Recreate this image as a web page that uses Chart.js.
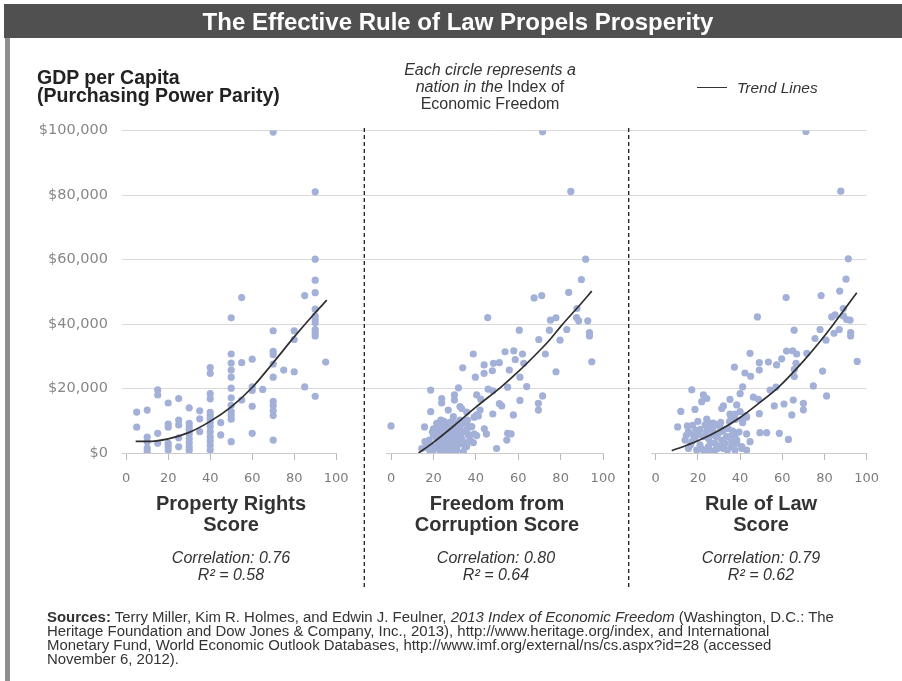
<!DOCTYPE html>
<html><head><meta charset="utf-8">
<script src="https://cdn.jsdelivr.net/npm/chart.js@4.4.0/dist/chart.umd.min.js"></script>
<style>
html,body{margin:0;padding:0;background:#fff;}
body{width:902px;height:681px;position:relative;overflow:hidden;font-family:"Liberation Sans",Arial,sans-serif;color:#333;}
.abs{position:absolute;white-space:nowrap;}
#bar{left:4px;top:4px;width:898px;height:34px;background:#505050;}
#lborder{left:5px;top:38px;width:5px;height:643px;background:#8e8e8e;}
#cv{position:absolute;left:0;top:0;}
.ptitle{top:493px;width:240px;text-align:center;font-weight:bold;font-size:20px;line-height:20.5px;color:#333;}
.corr{top:549px;width:240px;text-align:center;font-style:italic;font-size:16px;line-height:17px;color:#333;}
#src{left:47px;top:610px;font-size:14px;line-height:14px;color:#333;transform:scaleX(1.066);transform-origin:0 0;}
</style></head>
<body>
<div class="abs" id="bar"></div>
<div class="abs" id="lborder"></div>
<canvas id="cv" width="902" height="681"></canvas>
<div class="abs" style="left:0;width:916px;top:5px;line-height:34px;text-align:center;font-weight:bold;font-size:24px;color:#fff">The Effective Rule of Law Propels Prosperity</div>
<div class="abs" style="left:37px;top:67.5px;font-weight:bold;font-size:19.5px;line-height:18.5px;color:#222">GDP per Capita<br>(Purchasing Power Parity)</div>
<div class="abs" style="left:390px;width:200px;top:61px;text-align:center;font-size:16px;line-height:17px;color:#333"><i>Each circle represents a</i><br><i>nation in the</i> Index of<br>Economic Freedom</div>
<div class="abs" style="left:697px;top:87px;width:30px;height:0;border-top:1.5px solid #333"></div>
<div class="abs" style="left:737px;top:80px;font-style:italic;font-size:15.5px;line-height:15.5px;color:#333">Trend Lines</div>
<div class="abs ptitle" style="left:111px">Property Rights<br>Score</div>
<div class="abs ptitle" style="left:377px">Freedom from<br>Corruption Score</div>
<div class="abs ptitle" style="left:641px">Rule of Law<br>Score</div>
<div class="abs corr" style="left:111px">Correlation: 0.76<br>R² = 0.58</div>
<div class="abs corr" style="left:376px">Correlation: 0.80<br>R² = 0.64</div>
<div class="abs corr" style="left:641px">Correlation: 0.79<br>R² = 0.62</div>
<div class="abs" id="src"><b>Sources:</b> Terry Miller, Kim R. Holmes, and Edwin J. Feulner, <i>2013 Index of Economic Freedom</i> (Washington, D.C.: The<br>Heritage Foundation and Dow Jones &amp; Company, Inc., 2013), http://www.heritage.org/index, and International<br>Monetary Fund, World Economic Outlook Databases, http://www.imf.org/external/ns/cs.aspx?id=28 (accessed<br>November 6, 2012).</div>
<script>
// ---- data (GDP per capita in thousands of US$) ----
const xTicks = [0, 20, 40, 60, 80, 100];
const yTicks = [0, 20000, 40000, 60000, 80000, 100000];
const yTickLabels = ['$0', '$20,000', '$40,000', '$60,000', '$80,000', '$100,000'];

const propertyRights = [
[5,12.7],[5,8.0],
[10,13.3],[10,4.9],[10,3.5],[10,1.5],[10,0.4],
[15,19.6],[15,18.0],[15,6.1],[15,3.0],
[20,15.5],[20,9.0],[20,8.0],[20,3.0],[20,2.0],[20,0.9],
[25,16.9],[25,10.2],[25,8.7],[25,4.7],[25,1.9],
[30,14.0],[30,9.2],[30,8.1],[30,7.1],[30,5.9],[30,4.5],[30,3.2],[30,1.9],[30,0.8],
[35,13.1],[35,10.6],[35,6.6],
[40,26.5],[40,24.7],[40,18.4],[40,16.8],[40,12.6],[40,11.6],[40,10.6],[40,9.4],[40,8.2],[40,6.6],[40,5.0],[40,3.7],[40,2.3],[40,0.9],
[45,9.4],[45,5.6],
[50,41.9],[50,30.7],[50,27.9],[50,25.7],[50,23.5],[50,20.1],[50,17.1],[50,14.8],[50,12.8],[50,11.7],[50,10.5],[50,3.5],
[55,48.2],[55,28.0],[55,16.4],
[60,29.1],[60,20.5],[60,19.4],[60,14.5],[60,6.1],
[65,19.7],
[70,99.5],[70,37.9],[70,31.5],[70,30.5],[70,27.6],[70,23.5],[70,16.0],[70,14.7],[70,13.1],[70,11.6],[70,4.0],
[75,25.7],
[80,37.9],[80,35.2],[80,25.2],
[85,48.8],[85,20.5],
[90,81.0],[90,60.1],[90,53.6],[90,49.7],[90,44.6],[90,42.5],[90,41.4],[90,40.4],[90,38.3],[90,37.3],[90,36.3],[90,17.6],
[95,28.2]
];

const freedomFromCorruption = [
[71.5,99.6],[84.8,81.1],[91.8,60.1],[89.8,53.8],
[67.5,48.1],[71.1,48.8],[83.8,49.8],[87.7,44.8],[45.6,42.0],[75.2,41.2],[77.8,41.9],[87.5,42.0],[88.5,41.0],[92.8,41.0],
[60.5,38.1],[74.7,38.1],[82.9,38.3],[93.6,37.3],[93.6,36.3],[69.7,35.2],[79.7,35.0],
[38.8,30.7],[53.8,31.4],[57.9,31.7],[62,30.7],[58.6,29.0],[62.6,27.8],[72.8,30.7],
[43.9,27.3],[48.3,27.8],[51.1,28.0],[33.8,26.4],[47.8,25.5],[55.8,25.7],[43.9,24.7],[39.8,23.5],[60.8,23.5],[77.8,25.2],[94.7,28.3],
[31.8,20.2],[18.7,19.5],[45.8,19.8],[48,19.3],[55,20.4],[64,20.6],
[71.5,17.7],[69.5,15.4],[69.5,13.3],
[29.9,18.0],[29.9,16.4],[23.9,16.9],[23.9,15.5],[40.4,18.0],[42.3,16.7],[60.8,16.3],[51.1,15.3],[52.2,14.6],
[18.7,12.8],[27,13.3],[32.5,14.4],[33.3,13.8],[35.7,12.7],[40.4,11.8],[42,13.3],[48,12.1],[57.7,11.8],
[0,8.4],[15.8,8.1],
[23.5,10.2],[24.7,9.2],[26.3,9.2],[28.6,9.7],[27,8.2],[29.4,11.3],[32.5,10.2],[35.7,9.2],[36,10.2],[38.1,8.2],[39.2,11.1],[41.2,11.5],
[44,7.5],[45,5.9],[39.2,5.9],[40.4,5.4],[56.6,5.9],[54.6,4.0],[55,6.1],
[49.8,1.4],[38.8,3.2],[34.9,2.0],
[16,3.5],[20,5.6],[21.5,4.5],[23.1,6.1],[25.5,7.1],[27.8,8.0],[29.4,8.7],[32.5,7.6],[34.1,6.6],[36.5,5.6],[37.3,4.0],[30.2,4.0],
[27.8,3.0],[25.5,2.0],[23.1,0.9],[20,0.9],[17.6,1.4],[14.5,1.4],[32.5,3.0],[35.7,2.0],[31,0.9],[27,0.4],[34.1,0.4],[24.7,4.0],
[22.3,3.0],[26.3,5.1],[31,5.6],[28.6,6.1],[23.9,8.0],[21.5,9.2],
[19,2.5],[22,6.8],[26,3.5],[29,2.0],[33,5.0],[30,7.0],[28,9.5],[24,1.5],[36,7.5],[20,7.5],[18,4.0],[33,8.8],
[17,2.3],[19.5,6.5],[21,1.8],[22.5,8.5],[24,5.5],[25,9.8],[26.5,6.2],[27.5,1.2],[28.5,4.8],[29.5,7.3],[30.5,9.3],[31.5,2.5],
[33.5,4.2],[34.5,9.5],[36,3.2],[18.5,0.5],[26,0.8],[29,0.5],[32,6.5],[24.5,3.2]
];

const ruleOfLaw = [
[71.2,99.7],[87.7,81.2],[91.3,60.2],[90.2,53.9],[87.2,50.2],
[61.8,48.2],[78.4,48.8],[88.9,44.8],[48.2,42.2],[83.4,42.2],[85,42.8],[88.9,42.5],[90.5,41.4],[92.1,41.2],
[65.6,38.1],[77.9,38.3],[87,38.3],[84.5,37.1],[92.4,37.3],[92.4,36.3],[75.5,35.5],[80.7,35.0],
[44.7,30.9],[62,31.6],[64.9,31.7],[66.8,30.7],[71.6,30.9],[49.1,28],[53.4,28.2],[57.3,27.3],[59.7,29.2],[37.3,26.6],
[42.3,24.8],[45,23.8],[49.1,25.7],[66.5,27.8],[65.7,25.9],[65.7,23.7],[79.1,25.4],[95.5,28.4],
[17.1,19.6],[41.2,20.5],[54.2,19.5],[57,20.4],[74.7,20.8],[81,17.7],
[22.6,18],[24.2,16.9],[21.8,15.9],[35.2,16.6],[40,18.4],[38.4,14.9],[46.3,17.3],[48.7,16.6],[65.2,16.4],[70,15.4],[70,13.4],[56.2,14.6],[60.8,15.2],
[11.9,12.9],[18.6,13.5],[31.3,13.8],[32.1,14.6],[35.2,12.1],[40,12.8],[42.7,11.6],[49.1,12.2],[64.5,11.8],
[10.4,8.1],[15,8.4],[24.2,10.5],[27.3,9.3],[30.5,8.1],[35.6,11.5],[37.6,10.4],[37.6,12.1],[41.2,9.4],[40.8,10.2],[43.1,11.1],
[43.1,5.9],[44.7,3.5],[49.4,6.3],[52.6,6.3],[58.6,6.1],[62.9,4.2],[40.8,2.0],[38.4,4.0],[36,3.8],
[15.5,6.6],[17.9,5.6],[21,7.3],[23.4,8.7],[25.8,9.2],[28.1,8.7],[22.6,5.1],[25,4.5],[27.3,5.6],[29.7,6.1],[32.1,7.1],[34.4,7.6],
[37.6,5.6],[33.6,5.1],[31.3,4.0],[28.1,3.0],[25,2.0],[21,2.5],[17.1,3.5],[15.5,1.4],[19.4,0.9],[23.4,0.4],[28.1,0.9],[32.1,1.4],
[36,2.0],[38.4,3.0],[40.8,1.4],[43.1,0.9],[18.6,4.5],[13.9,4.0],[35.2,5.1],[30.5,2.0],[37.6,0.9],[26.5,0.4],
[14.5,5.5],[16.5,2.5],[19,7.0],[20.5,5.8],[22,1.2],[24,6.3],[26,3.2],[27,7.2],[28.8,5.0],[30.8,9.5],[31.5,6.8],[33,3.0],
[34,0.9],[35,9.8],[36.5,6.8],[20,9.8],[24.5,7.8],[29.5,1.5],[17.5,8.6],[39.5,6.5]
];

// trend lines
const trendPropertyRights = [[4.5,3.6],[10,3.6],[20,4.4],[30,6.4],[40,9.8],[50,14.3],[60,20.3],[70,28.0],[80,36.0],[90,43.5],[95.5,47.4]];
const trendCorruption = [[13,0],[20,3.3],[30,8.6],[40,14.2],[52,20.5],[60,25.2],[70,31.7],[75,35.2],[80,39.2],[90,46.6],[94.7,50.2]];
const trendRuleOfLaw = [[7.6,0.7],[15,2.5],[20,3.8],[30,7.0],[40,11.0],[50,16.0],[58,20.3],[70,28.5],[79,35.5],[85,40.6],[90,45.0],[95.3,49.7]];

// ---- rendering ----
const POINT = '#a3b0d7';
const LINE = '#2f2f2f';
const toXY = arr => arr.map(p => ({x: p[0], y: p[1] * 1000}));

function trendSet(arr, axis){
  return {type:'scatter', data: toXY(arr), xAxisID: axis, yAxisID:'y', showLine:true, fill:false,
    borderColor: LINE, borderWidth: 1.7, pointRadius: 0, cubicInterpolationMode:'monotone', order: 0};
}
function pointSet(arr, axis){
  return {type:'scatter', data: toXY(arr), xAxisID: axis, yAxisID:'y', backgroundColor: POINT,
    borderWidth: 0, pointRadius: 3.6, pointHoverRadius: 3.6, order: 1};
}
function panelAxis(weight, w){
  return {type:'linear', axis:'x', position:'bottom', stack:'panels', stackWeight: w, weight: weight,
    min:-2, max:100,
    afterBuildTicks: s => { s.ticks = xTicks.map(v => ({value: v})); },
    afterFit: s => { s.height = 30; },
    grid:{display:true, drawOnChartArea:false, drawTicks:true, tickLength:7, color:'#b8b8b8'},
    border:{display:true, color:'#cccccc', width:1},
    ticks:{color:'#7c7c7c', font:{family:'DejaVu Sans', size:13}, padding:11, maxRotation:0, autoSkip:false}};
}
function gapAxis(weight, w){
  return {type:'linear', axis:'x', position:'bottom', stack:'panels', stackWeight: w, weight: weight,
    min:0, max:1, afterFit: s => { s.height = 30; },
    grid:{display:false}, border:{display:false}, ticks:{display:false}};
}

const dividers = {id:'dividers', afterDraw(chart){
  const c = chart.ctx; c.save();
  c.strokeStyle = '#1e1e1e'; c.lineWidth = 1.3; c.setLineDash([4,3]);
  [364.3, 628.7].forEach(x => { c.beginPath(); c.moveTo(x,128); c.lineTo(x,590); c.stroke(); });
  c.restore();
}};

new Chart(document.getElementById('cv'), {
  type:'scatter',
  data:{datasets:[
    trendSet(trendPropertyRights,'x1'), trendSet(trendCorruption,'x2'), trendSet(trendRuleOfLaw,'x3'),
    pointSet(propertyRights,'x1'), pointSet(freedomFromCorruption,'x2'), pointSet(ruleOfLaw,'x3')
  ]},
  options:{
    responsive:false, animation:false, devicePixelRatio:1,
    layout:{padding:{left:0, top:130.5, right:35.3, bottom:198}},
    plugins:{legend:{display:false}, tooltip:{enabled:false}},
    scales:{
      x1: panelAxis(1, 214.2),
      xg1: gapAxis(2, 50.6),
      x2: panelAxis(3, 216.24),
      xg2: gapAxis(4, 48.46),
      x3: panelAxis(5, 215.22),
      y: {type:'linear', position:'left', min:0, max:100000,
        afterBuildTicks: s => { s.ticks = yTicks.map(v => ({value: v})); },
        afterFit: s => { s.width = 122; },
        grid:{color: c => (c.tick && c.tick.value === 0) ? 'rgba(0,0,0,0)' : '#d9d9d9', drawTicks:false, lineWidth:1},
        border:{display:false},
        ticks:{color:'#878787', font:{family:'DejaVu Sans', size:14.5}, padding:14,
          callback: (v, i) => yTickLabels[i]}}
    }
  },
  plugins:[dividers]
});
</script>
</body></html>
